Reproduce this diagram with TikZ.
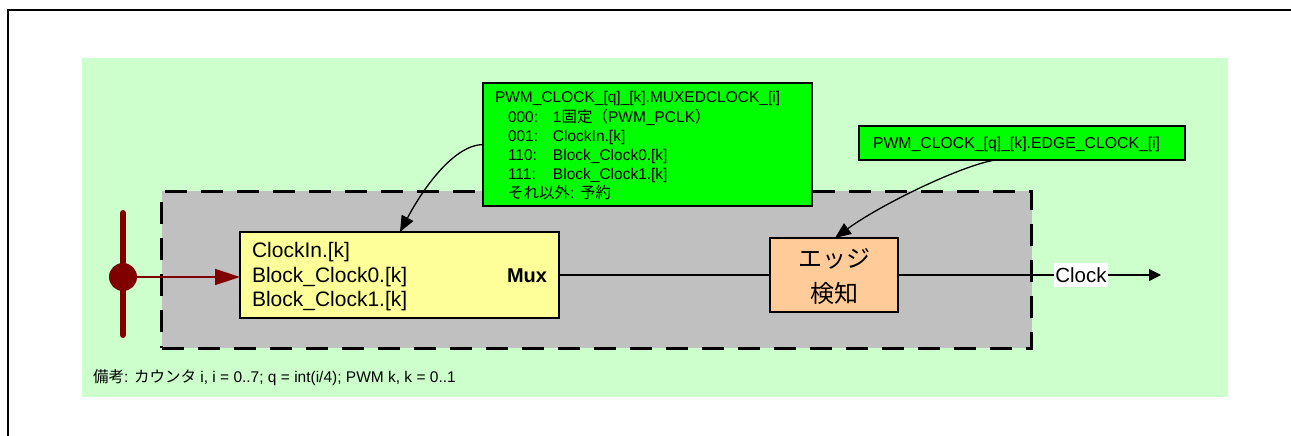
\documentclass[tikz,border=0pt]{standalone}
\usepackage{fontspec}
\setmainfont{Liberation Sans}
\newfontfamily\jpfont{Noto Sans CJK JP}
\newcommand{\jp}[1]{{\jpfont #1}}
\usetikzlibrary{arrows.meta}
\definecolor{bggreen}{HTML}{CCFFCC}
\definecolor{boxgray}{HTML}{C0C0C0}
\definecolor{muxyellow}{HTML}{FFFF99}
\definecolor{cfggreen}{HTML}{00FF00}
\definecolor{edgeorange}{HTML}{FFCC99}
\definecolor{darkred}{HTML}{800000}
\begin{document}
\begin{tikzpicture}[x=1pt,y=-1pt,
  box/.style={draw, line width=1.3pt, rectangle, inner sep=0pt, outer sep=0pt},
  txt/.style={inner sep=0pt, outer sep=0pt, anchor=base west},
  cfgtxt/.style={txt, font=\fontsize{15.5}{19}\selectfont},
  ytxt/.style={txt, font=\fontsize{21}{24}\selectfont},
  conn/.style={line width=1.3pt, -{Triangle[length=16pt,width=13pt]}}
]
\useasboundingbox (0,0) rectangle (1291,436);
\fill[white] (0,0) rectangle (1291,436);
\draw[line width=2pt] (8,436) -- (8,10) -- (1291,10);

% background panel
\node[rectangle, fill=bggreen, inner sep=0pt, minimum width=1146pt, minimum height=339pt] (bg) at (655,227.5) {};
% dashed gray block
\node[rectangle, fill=boxgray, draw, line width=3pt, dash pattern=on 22pt off 14pt, inner sep=0pt, minimum width=870pt, minimum height=157pt] (blk) at (596.5,269.5) {};

% Mux box
\node[box, fill=muxyellow, minimum width=319pt, minimum height=86pt] (mux) at (399.5,275) {};
\node[ytxt] (y1) at (252,257.5) {ClockIn.[k]};
\node[ytxt] (y2) at (252,282) {Block\_Clock0.[k]};
\node[ytxt] (y3) at (252,306.5) {Block\_Clock1.[k]};
\node[txt, anchor=base east, font=\fontsize{20}{24}\selectfont\bfseries] (muxlbl) at (547,282) {Mux};

% edge detector
\node[box, fill=edgeorange, minimum width=128pt, minimum height=74pt] (edge) at (834,275) {};
\node[inner sep=0pt, anchor=base, font=\jpfont\fontsize{24}{30}\selectfont] (e1) at (834,267) {エッジ};
\node[inner sep=0pt, anchor=base, font=\jpfont\fontsize{24}{30}\selectfont] (e2) at (834,302) {検知};

% config box 1
\node[box, fill=cfggreen, minimum width=329pt, minimum height=123pt] (cfg1) at (647.5,144.5) {};
\node[cfgtxt] (c0) at (495,102.5) {PWM\_CLOCK\_[q]\_[k].MUXEDCLOCK\_[i]};
\node[cfgtxt] (c1) at (508,122) {\makebox[45pt][l]{000:}1\jp{固定（}PWM\_PCLK\jp{）}};
\node[cfgtxt] (c2) at (508,141.5) {\makebox[45pt][l]{001:}ClockIn.[k]};
\node[cfgtxt] (c3) at (508,160.5) {\makebox[45pt][l]{110:}Block\_Clock0.[k]};
\node[cfgtxt] (c4) at (508,179.5) {\makebox[45pt][l]{111:}Block\_Clock1.[k]};
\node[cfgtxt] (c5) at (508,198.5) {\jp{それ以外}: \jp{予約}};

% config box 2
\node[box, fill=cfggreen, minimum width=326pt, minimum height=34pt] (cfg2) at (1022,143) {};
\node[cfgtxt, font=\fontsize{15.8}{19}\selectfont] (c6) at (873,148.5) {PWM\_CLOCK\_[q]\_[k].EDGE\_CLOCK\_[i]};

% input
\coordinate (stT) at (123,213);
\coordinate (stB) at (123,335);
\draw[darkred, line width=6pt, line cap=round] (stT) -- (stB);
\node[circle, fill=darkred, inner sep=0pt, minimum size=28pt] (dot) at (123,277) {};
\draw[darkred, line width=1.5pt, -{Triangle[length=25pt,width=16pt]}] (dot.east) -- (dot.east -| mux.west);

% signal path
\draw[line width=1.3pt] (mux.east) -- (edge.west);
\node[fill=white, inner sep=0pt, minimum width=54pt, minimum height=24pt, font=\fontsize{20.5}{24}\selectfont] (clk) at (1081,275) {Clock};
\draw[line width=1.3pt] (edge.east) -- (clk.west);
\coordinate (clkend) at (1161,275);
\draw[line width=1.3pt, -{Triangle[length=12pt,width=12pt]}] (clk.east) -- (clkend);

% config arrows
\coordinate (muxtop) at (400,232);
\draw[conn] (cfg1.west) .. controls (455,145) and (425,185) .. (muxtop);
\coordinate (c2start) at (995,160);
\coordinate (edgetop) at (835,238);
\draw[conn] (c2start) .. controls (960,166) and (880,205) .. (edgetop);

% note
\node[txt, font=\fontsize{15.5}{18}\selectfont] (note) at (93,382) {\jp{備考}: \jp{カウンタ} i, i = 0..7; q = int(i/4); PWM k, k = 0..1};
\end{tikzpicture}
\end{document}
